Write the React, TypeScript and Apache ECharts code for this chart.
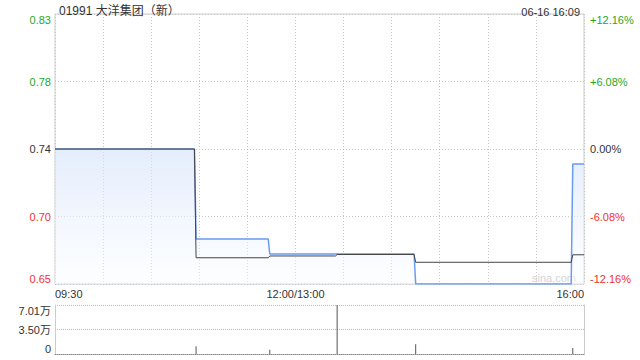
import React, { useEffect, useRef } from "react";
import * as echarts from "echarts";

// ---- data ----
const titleText = "01991 大洋集团（新）";
const dateText = "06-16 16:09";
const prevClose = 0.74;

const priceTimes = ["09:30", "10:57", "10:58", "11:43", "11:44", "14:14", "14:15", "15:52", "15:53", "16:00"];
const priceValues = [0.74, 0.74, 0.68, 0.68, 0.67, 0.67, 0.65, 0.65, 0.73, 0.73];

const avgTimes = ["09:30", "10:57", "10:58", "11:43", "11:44", "13:25", "13:26", "14:14", "14:15", "15:52", "15:53", "16:00"];
const avgValues = [0.74, 0.74, 0.6675, 0.6675, 0.6687, 0.6687, 0.6697, 0.6697, 0.6645, 0.6645, 0.6695, 0.6695];

const volTimes = ["10:58", "11:44", "13:26", "14:15", "15:53"];
const volValues = [11000, 6000, 70080, 14000, 8500];

const xTickTimes = ["09:30", "12:00", "16:00"];
const xTickLabels = ["09:30", "12:00/13:00", "16:00"];

const pctRange = 12.16;
const pctStep = 6.08;
const volMax = 70080;

// minutes since open, with lunch break removed
const toMin = (t: string) => {
  const [h, m] = t.split(":").map(Number);
  const mm = h * 60 + m;
  return mm <= 720 ? mm - 570 : mm - 780 + 150;
};
const toPct = (p: number) => (p / prevClose - 1) * 100;

const GREEN = "#1ea81e";
const RED = "#f23030";
const DARK = "#333333";
const FONT = "'Liberation Sans', Arial, 'Noto Sans CJK SC', sans-serif";

const signColor = (v: number) => (Math.abs(v) < 1e-9 ? DARK : v > 0 ? GREEN : RED);

export default function App() {
  const ref = useRef<HTMLDivElement>(null);
  useEffect(() => {
    if (!ref.current) return;
    const chart = echarts.init(ref.current, undefined, { renderer: "svg" });
    const tickMap: Record<number, string> = {};
    xTickTimes.forEach((t, i) => (tickMap[toMin(t)] = xTickLabels[i]));
    const xMax = toMin("16:00");

    const option: any = {
      animation: false,
      textStyle: { fontFamily: FONT },
      title: [
        { text: titleText, left: 54, top: 0, textStyle: { fontSize: 12, fontWeight: "normal", color: DARK, fontFamily: FONT } },
        { text: dateText, right: 55, top: 1, textStyle: { fontSize: 11, fontWeight: "normal", color: DARK, fontFamily: FONT } },
      ],
      grid: [
        { left: 55, right: 56, top: 14, height: 270, show: true, borderColor: "#cccccc", borderWidth: 1 },
        { left: 55, right: 56, top: 305, height: 49, show: false },
      ],
      xAxis: [
        {
          type: "value", gridIndex: 0, min: 0, max: xMax, interval: 30,
          axisLine: { show: false }, axisTick: { show: false },
          splitLine: { show: true, lineStyle: { type: [1, 2], color: "#c8c8c8" } },
          axisLabel: {
            show: true, margin: 4, fontSize: 11, color: DARK, fontFamily: FONT,
            alignMinLabel: "left", alignMaxLabel: "right",
            formatter: (v: number) => tickMap[Math.round(v)] ?? "",
          },
        },
        {
          type: "value", gridIndex: 1, min: 0, max: xMax, interval: 30,
          axisLine: { show: true, onZero: false, lineStyle: { type: "dotted", color: "#888888" } },
          axisTick: { show: false }, axisLabel: { show: false }, splitLine: { show: false },
        },
      ],
      yAxis: [
        {
          type: "value", gridIndex: 0, min: -pctRange, max: pctRange, interval: pctStep,
          axisLine: { show: false }, axisTick: { show: false },
          splitLine: { show: true, lineStyle: { type: [1, 2], color: "#c8c8c8" } },
          axisLabel: {
            margin: 4, fontSize: 11, fontFamily: FONT,
            verticalAlignMinLabel: "bottom", verticalAlignMaxLabel: "top",
            color: (v: any) => signColor(Number(v)),
            formatter: (v: number) => (prevClose * (1 + v / 100)).toFixed(2),
          },
        },
        {
          type: "value", gridIndex: 0, position: "right", min: -pctRange, max: pctRange, interval: pctStep,
          axisLine: { show: false }, axisTick: { show: false }, splitLine: { show: false },
          axisLabel: {
            margin: 6, fontSize: 11, fontFamily: FONT,
            verticalAlignMinLabel: "bottom", verticalAlignMaxLabel: "top",
            color: (v: any) => signColor(Number(v)),
            formatter: (v: number) =>
              Math.abs(v) < 1e-9 ? "0.00%" : (v > 0 ? "+" : "") + v.toFixed(2) + "%",
          },
        },
        {
          type: "value", gridIndex: 1, min: 0, max: volMax, interval: volMax / 2,
          axisLine: { show: true, lineStyle: { color: "#cccccc" } }, axisTick: { show: false },
          splitLine: { show: true, lineStyle: { type: [1, 1], color: "#bbbbbb" } },
          axisLabel: {
            margin: 4, fontSize: 11, color: DARK, fontFamily: FONT,
            verticalAlignMinLabel: "bottom", verticalAlignMaxLabel: "top",
            formatter: (v: number) => (v === 0 ? "0" : (v / 10000).toFixed(2) + "万"),
          },
        },
        {
          type: "value", gridIndex: 1, position: "right", min: 0, max: volMax, interval: volMax / 2,
          axisLine: { show: true, lineStyle: { color: "#cccccc" } }, axisTick: { show: false },
          splitLine: { show: false }, axisLabel: { show: false },
        },
      ],
      graphic: [
        {
          type: "text", left: 532, top: 272, silent: true,
          style: { text: "sina.com", fill: "#d4d4d4", font: "11px " + FONT },
        },
      ],
      series: [
        {
          type: "line", xAxisIndex: 0, yAxisIndex: 0, showSymbol: false, z: 3,
          data: priceTimes.map((t, i) => [toMin(t), toPct(priceValues[i])]),
          lineStyle: { color: "#6a9bf0", width: 1.5 },
          areaStyle: {
            origin: "start",
            color: new echarts.graphic.LinearGradient(0, 0, 0, 1, [
              { offset: 0, color: "rgba(210,225,250,0.85)" },
              { offset: 1, color: "rgba(250,252,255,0.6)" },
            ]),
          },
        },
        {
          type: "line", xAxisIndex: 0, yAxisIndex: 0, showSymbol: false, z: 4,
          data: avgTimes.map((t, i) => [toMin(t), toPct(avgValues[i])]),
          lineStyle: { color: "#444444", width: 1 },
        },
        {
          type: "bar", xAxisIndex: 1, yAxisIndex: 2, barWidth: 1,
          data: volTimes.map((t, i) => [toMin(t), volValues[i]]),
          itemStyle: { color: "#555555" },
        },
      ],
    };
    chart.setOption(option);
    return () => chart.dispose();
  }, []);
  return (
    <div
      ref={ref}
      style={{ position: "fixed", left: 0, top: 0, width: 640, height: 360, background: "#fff" }}
    />
  );
}
